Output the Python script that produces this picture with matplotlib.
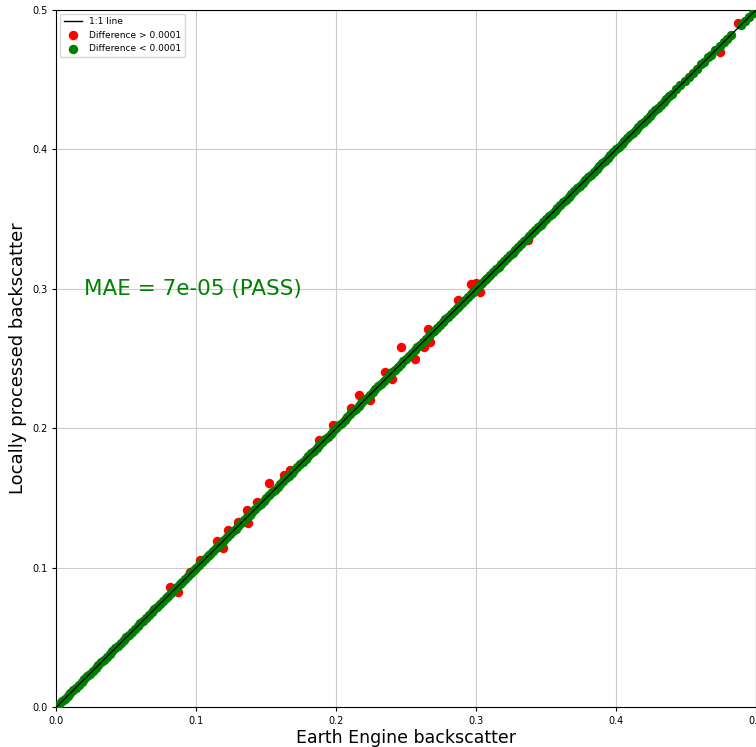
import matplotlib

matplotlib.use("Agg")
import matplotlib.pyplot as plt

# red: points where |local - earth engine| > 0.0001
red_ee = [0.0811, 0.0868, 0.0954, 0.1025, 0.1144, 0.1191, 0.1227, 0.1299,
          0.1359, 0.1370, 0.1430, 0.1518, 0.1625, 0.1670, 0.1880, 0.1977,
          0.2108, 0.2163, 0.2244, 0.2346, 0.2398, 0.2465, 0.2560, 0.2630,
          0.2653, 0.2668, 0.2870, 0.2960, 0.3000, 0.3025, 0.3370, 0.4740,
          0.4870]
red_local = [0.0861, 0.0825, 0.0971, 0.1055, 0.1194, 0.1138, 0.1270, 0.1330,
             0.1413, 0.1318, 0.1473, 0.1605, 0.1664, 0.1700, 0.1915, 0.2023,
             0.2143, 0.2238, 0.2202, 0.2405, 0.2350, 0.2580, 0.2500, 0.2585,
             0.2712, 0.2618, 0.2920, 0.3034, 0.3040, 0.2977, 0.3350, 0.4700,
             0.4910]

# green: local == earth engine to within 0.0001 (same value on both axes)
green_values = [
    0.000, 0.002, 0.004, 0.006, 0.008, 0.010, 0.012, 0.014, 0.016, 0.018,
    0.020, 0.022, 0.024, 0.026, 0.028, 0.030, 0.032, 0.034, 0.036, 0.038,
    0.040, 0.042, 0.044, 0.046, 0.048, 0.050, 0.052, 0.054, 0.056, 0.058,
    0.060, 0.062, 0.064, 0.066, 0.068, 0.070, 0.072, 0.074, 0.076, 0.078,
    0.080, 0.082, 0.084, 0.086, 0.088, 0.090, 0.092, 0.094, 0.096, 0.098,
    0.100, 0.102, 0.104, 0.106, 0.108, 0.110, 0.112, 0.114, 0.116, 0.118,
    0.120, 0.122, 0.124, 0.126, 0.128, 0.130, 0.132, 0.134, 0.136, 0.138,
    0.140, 0.142, 0.144, 0.146, 0.148, 0.150, 0.152, 0.154, 0.156, 0.158,
    0.160, 0.162, 0.164, 0.166, 0.168, 0.170, 0.172, 0.174, 0.176, 0.178,
    0.180, 0.182, 0.184, 0.186, 0.188, 0.190, 0.192, 0.194, 0.196, 0.198,
    0.200, 0.202, 0.204, 0.206, 0.208, 0.210, 0.212, 0.214, 0.216, 0.218,
    0.220, 0.222, 0.224, 0.226, 0.228, 0.230, 0.232, 0.234, 0.236, 0.238,
    0.240, 0.242, 0.244, 0.246, 0.248, 0.250, 0.252, 0.254, 0.256, 0.258,
    0.260, 0.262, 0.264, 0.266, 0.268, 0.270, 0.272, 0.274, 0.276, 0.278,
    0.280, 0.282, 0.284, 0.286, 0.288, 0.290, 0.292, 0.294, 0.296, 0.298,
    0.300, 0.302, 0.304, 0.306, 0.308, 0.310, 0.312, 0.314, 0.316, 0.318,
    0.320, 0.322, 0.324, 0.326, 0.328, 0.330, 0.332, 0.334, 0.336, 0.338,
    0.340, 0.342, 0.344, 0.346, 0.348, 0.350, 0.352, 0.354, 0.356, 0.358,
    0.360, 0.362, 0.364, 0.366, 0.368, 0.370, 0.372, 0.374, 0.376, 0.378,
    0.380, 0.382, 0.384, 0.386, 0.388, 0.390, 0.392, 0.394, 0.396, 0.398,
    0.400, 0.402, 0.404, 0.406, 0.408, 0.410, 0.412, 0.414, 0.416, 0.418,
    0.420, 0.422, 0.424, 0.426, 0.428, 0.430, 0.432, 0.434, 0.436, 0.438,
    0.440, 0.443, 0.446, 0.449, 0.452, 0.455, 0.458, 0.461, 0.463, 0.466,
    0.468, 0.471, 0.474, 0.477, 0.479, 0.482, 0.489, 0.492, 0.495, 0.498,
]

line_ends = [0.0, 0.5]
mae_text = "MAE = 7e-05 (PASS)"

fig = plt.figure(figsize=(7.56, 7.47), dpi=100)
ax = fig.add_axes([0.0747, 0.0535, 0.9253, 0.9331])

ax.plot(line_ends, line_ends, color="black", linewidth=1.0, label="1:1 line", zorder=4)
ax.scatter(red_ee, red_local, s=46, color="red", linewidths=0,
           label="Difference > 0.0001", zorder=2)
ax.scatter(green_values, green_values, s=46, color="green", linewidths=0,
           label="Difference < 0.0001", zorder=3)

ax.text(0.02, 0.30, mae_text, color="green", fontsize=15.5, va="center")

ax.set_xlim(0, 0.5)
ax.set_ylim(0, 0.5)
ax.set_xticks([0.0, 0.1, 0.2, 0.3, 0.4, 0.5])
ax.set_yticks([0.0, 0.1, 0.2, 0.3, 0.4, 0.5])
ax.tick_params(labelsize=7, length=3)
ax.set_xlabel("Earth Engine backscatter", fontsize=12.5, labelpad=2)
ax.set_ylabel("Locally processed backscatter", fontsize=13, labelpad=4)
ax.grid(True, color="#cccccc", linewidth=0.8)
ax.set_axisbelow(True)
ax.legend(loc="upper left", fontsize=6.5, borderaxespad=0.4)

fig.savefig("out.png", dpi=100)
